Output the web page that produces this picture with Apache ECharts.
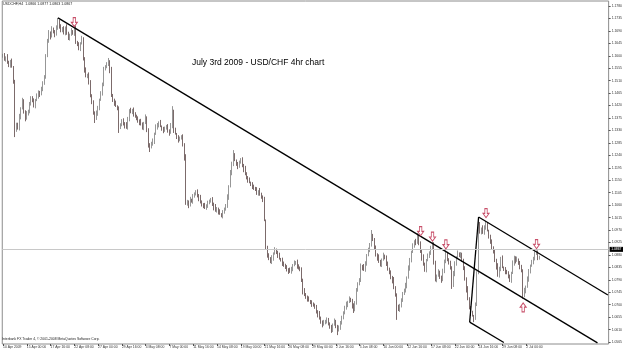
<!DOCTYPE html>
<html>
<head>
<meta charset="utf-8">
<title>USD/CHF 4hr</title>
<script src="https://cdn.jsdelivr.net/npm/echarts@6.0.0/dist/echarts.min.js"></script>
<style>
  html, body { margin: 0; padding: 0; background: #fff; }
  #chart { width: 625px; height: 350px; }
</style>
</head>
<body>
<div id="chart"></div>
<script>
// x labels, one every 16 bars (MT4 style)
const tickLabels = ['10 Apr 2009', '15 Apr 00:00', '17 Apr 16:00', '22 Apr 08:00', '27 Apr 00:00', '29 Apr 16:00',
  '4 May 08:00', '7 May 00:00', '11 May 16:00', '14 May 08:00', '19 May 00:00', '21 May 16:00', '26 May 08:00',
  '29 May 00:00', '2 Jun 16:00', '5 Jun 08:00', '10 Jun 00:00', '12 Jun 16:00', '17 Jun 08:00', '22 Jun 00:00',
  '24 Jun 16:00', '29 Jun 08:00', '2 Jul 00:00']
const barsPerTick = 16
const totalSlots = 408

const priceTicks = [1.0565, 1.0610, 1.0655, 1.0700, 1.0745, 1.0790, 1.0835, 1.0880, 1.0925, 1.0970, 1.1015,
  1.1060, 1.1105, 1.1150, 1.1195, 1.1240, 1.1285, 1.1330, 1.1375, 1.1420, 1.1465, 1.1510, 1.1555, 1.1600,
  1.1645, 1.1690, 1.1735, 1.1780]

// USDCHF H4 bars, open of each bar = previous close
const firstOpen = 1.1598
const closes = [
  1.1601, 1.1590, 1.1594, 1.1575, 1.1566, 1.1580, 1.1560, 1.1505, 1.1330, 1.1352,
  1.1338, 1.1381, 1.1410, 1.1436, 1.1398, 1.1372, 1.1390, 1.1402, 1.1425, 1.1448,
  1.1437, 1.1421, 1.1440, 1.1452, 1.1468, 1.1460, 1.1478, 1.1505, 1.1522, 1.1600,
  1.1655, 1.1684, 1.1670, 1.1695, 1.1688, 1.1676, 1.1700, 1.1722, 1.1708, 1.1690,
  1.1698, 1.1685, 1.1702, 1.1680, 1.1664, 1.1675, 1.1690, 1.1682, 1.1703, 1.1648,
  1.1640, 1.1628, 1.1645, 1.1660, 1.1590, 1.1548, 1.1525, 1.1532, 1.1506, 1.1455,
  1.1430, 1.1395, 1.1372, 1.1390, 1.1412, 1.1440, 1.1462, 1.1500, 1.1552, 1.1560,
  1.1571, 1.1580, 1.1548, 1.1455, 1.1440, 1.1428, 1.1418, 1.1409, 1.1340, 1.1350,
  1.1365, 1.1356, 1.1348, 1.1340, 1.1372, 1.1402, 1.1395, 1.1405, 1.1390, 1.1381,
  1.1372, 1.1366, 1.1360, 1.1352, 1.1340, 1.1356, 1.1378, 1.1330, 1.1278, 1.1270,
  1.1283, 1.1292, 1.1318, 1.1340, 1.1350, 1.1358, 1.1345, 1.1335, 1.1330, 1.1338,
  1.1344, 1.1330, 1.1322, 1.1345, 1.1400, 1.1330, 1.1318, 1.1305, 1.1296, 1.1302,
  1.1307, 1.1280, 1.1232, 1.1065, 1.1072, 1.1058, 1.1080, 1.1075, 1.1092, 1.1100,
  1.1108, 1.1096, 1.1085, 1.1070, 1.1062, 1.1058, 1.1049, 1.1060, 1.1068, 1.1074,
  1.1080, 1.1065, 1.1052, 1.1040, 1.1046, 1.1035, 1.1028, 1.1022, 1.1034, 1.1045,
  1.1058, 1.1090, 1.1128, 1.1175, 1.1210, 1.1238, 1.1222, 1.1208, 1.1200, 1.1215,
  1.1224, 1.1205, 1.1190, 1.1172, 1.1160, 1.1150, 1.1142, 1.1135, 1.1128, 1.1120,
  1.1116, 1.1105, 1.1110, 1.1098, 1.1090, 1.1080, 1.1005, 1.0905, 1.0880, 1.0866,
  1.0855, 1.0870, 1.0885, 1.0896, 1.0890, 1.0878, 1.0866, 1.0862, 1.0850, 1.0842,
  1.0834, 1.0828, 1.0822, 1.0819, 1.0830, 1.0842, 1.0850, 1.0855, 1.0840, 1.0832,
  1.0826, 1.0790, 1.0748, 1.0735, 1.0728, 1.0720, 1.0714, 1.0708, 1.0702, 1.0698,
  1.0690, 1.0676, 1.0665, 1.0650, 1.0638, 1.0627, 1.0635, 1.0642, 1.0646, 1.0630,
  1.0618, 1.0612, 1.0628, 1.0638, 1.0622, 1.0606, 1.0615, 1.0638, 1.0652, 1.0670,
  1.0690, 1.0702, 1.0710, 1.0718, 1.0716, 1.0695, 1.0682, 1.0710, 1.0752, 1.0775,
  1.0790, 1.0840, 1.0835, 1.0826, 1.0850, 1.0878, 1.0896, 1.0920, 1.0950, 1.0935,
  1.0905, 1.0882, 1.0870, 1.0855, 1.0845, 1.0862, 1.0878, 1.0870, 1.0850, 1.0828,
  1.0815, 1.0800, 1.0788, 1.0760, 1.0736, 1.0690, 1.0680, 1.0700, 1.0715, 1.0740,
  1.0752, 1.0770, 1.0798, 1.0830, 1.0862, 1.0890, 1.0912, 1.0930, 1.0925, 1.0946,
  1.0920, 1.0895, 1.0870, 1.0845, 1.0826, 1.0860, 1.0875, 1.0890, 1.0905, 1.0920,
  1.0850, 1.0792, 1.0805, 1.0816, 1.0800, 1.0788, 1.0820, 1.0860, 1.0885, 1.0862,
  1.0850, 1.0835, 1.0768, 1.0810, 1.0850, 1.0870, 1.0886, 1.0878, 1.0882, 1.0860,
  1.0830, 1.0795, 1.0755, 1.0720, 1.0690, 1.0668, 1.0660, 1.0655, 1.0700, 1.0815,
  1.0990, 1.0965, 1.0975, 1.0960, 1.0980, 1.0995, 1.0968, 1.0945, 1.0930, 1.0905,
  1.0890, 1.0862, 1.0838, 1.0805, 1.0830, 1.0868, 1.0835, 1.0828, 1.0820, 1.0815,
  1.0800, 1.0790, 1.0815, 1.0848, 1.0870, 1.0858, 1.0864, 1.0850, 1.0838, 1.0822,
  1.0735, 1.0752, 1.0765, 1.0790, 1.0822, 1.0840, 1.0852, 1.0870, 1.0885, 1.0890,
  1.0866, 1.0867
]
const highs = [
  1.1607, 1.1610, 1.1598, 1.1606, 1.1582, 1.1585, 1.1590, 1.1563, 1.1513, 1.1358,
  1.1358, 1.1390, 1.1414, 1.1448, 1.1443, 1.1403, 1.1400, 1.1405, 1.1433, 1.1454,
  1.1454, 1.1446, 1.1444, 1.1464, 1.1475, 1.1473, 1.1488, 1.1508, 1.1530, 1.1606,
  1.1661, 1.1693, 1.1688, 1.1707, 1.1702, 1.1693, 1.1710, 1.1737, 1.1730, 1.1714,
  1.1704, 1.1707, 1.1706, 1.1714, 1.1687, 1.1680, 1.1700, 1.1693, 1.1711, 1.1709,
  1.1654, 1.1649, 1.1649, 1.1672, 1.1667, 1.1595, 1.1558, 1.1535, 1.1540, 1.1512,
  1.1461, 1.1439, 1.1399, 1.1402, 1.1419, 1.1445, 1.1472, 1.1503, 1.1560, 1.1566,
  1.1577, 1.1592, 1.1584, 1.1560, 1.1462, 1.1445, 1.1438, 1.1421, 1.1417, 1.1356,
  1.1371, 1.1374, 1.1360, 1.1360, 1.1379, 1.1407, 1.1412, 1.1408, 1.1413, 1.1396,
  1.1387, 1.1381, 1.1370, 1.1372, 1.1359, 1.1361, 1.1388, 1.1381, 1.1338, 1.1284,
  1.1289, 1.1301, 1.1322, 1.1352, 1.1357, 1.1363, 1.1368, 1.1348, 1.1343, 1.1344,
  1.1350, 1.1353, 1.1334, 1.1357, 1.1418, 1.1405, 1.1340, 1.1321, 1.1313, 1.1308,
  1.1313, 1.1316, 1.1284, 1.1244, 1.1079, 1.1077, 1.1090, 1.1083, 1.1100, 1.1106,
  1.1114, 1.1117, 1.1100, 1.1097, 1.1077, 1.1067, 1.1068, 1.1063, 1.1076, 1.1080,
  1.1086, 1.1089, 1.1069, 1.1064, 1.1053, 1.1051, 1.1045, 1.1031, 1.1042, 1.1051,
  1.1064, 1.1099, 1.1132, 1.1187, 1.1217, 1.1259, 1.1248, 1.1225, 1.1216, 1.1221,
  1.1230, 1.1233, 1.1209, 1.1202, 1.1179, 1.1165, 1.1160, 1.1145, 1.1143, 1.1134,
  1.1126, 1.1125, 1.1114, 1.1122, 1.1105, 1.1095, 1.1090, 1.1008, 1.0913, 1.0886,
  1.0872, 1.0879, 1.0889, 1.0908, 1.0903, 1.0895, 1.0888, 1.0869, 1.0870, 1.0856,
  1.0848, 1.0843, 1.0832, 1.0834, 1.0837, 1.0847, 1.0860, 1.0858, 1.0863, 1.0846,
  1.0838, 1.0835, 1.0794, 1.0760, 1.0742, 1.0733, 1.0730, 1.0717, 1.0716, 1.0708,
  1.0704, 1.0699, 1.0680, 1.0677, 1.0657, 1.0643, 1.0645, 1.0645, 1.0654, 1.0652,
  1.0636, 1.0627, 1.0632, 1.0650, 1.0645, 1.0627, 1.0625, 1.0641, 1.0660, 1.0676,
  1.0696, 1.0711, 1.0714, 1.0730, 1.0725, 1.0721, 1.0705, 1.0713, 1.0760, 1.0781,
  1.0796, 1.0849, 1.0844, 1.0847, 1.0857, 1.0883, 1.0906, 1.0923, 1.0970, 1.0956,
  1.0941, 1.0914, 1.0886, 1.0882, 1.0862, 1.0867, 1.0888, 1.0881, 1.0878, 1.0856,
  1.0834, 1.0824, 1.0804, 1.0800, 1.0767, 1.0741, 1.0700, 1.0703, 1.0723, 1.0746,
  1.0758, 1.0779, 1.0802, 1.0842, 1.0869, 1.0895, 1.0922, 1.0933, 1.0938, 1.0959,
  1.0952, 1.0929, 1.0899, 1.0882, 1.0852, 1.0865, 1.0885, 1.0893, 1.0913, 1.0927,
  1.0926, 1.0859, 1.0809, 1.0828, 1.0823, 1.0805, 1.0830, 1.0863, 1.0896, 1.0891,
  1.0868, 1.0859, 1.0839, 1.0822, 1.0857, 1.0875, 1.0896, 1.0889, 1.0890, 1.0888,
  1.0866, 1.0839, 1.0799, 1.0767, 1.0727, 1.0695, 1.0678, 1.0663, 1.0708, 1.0821,
  1.1017, 1.0999, 1.0979, 1.0987, 1.0987, 1.1003, 1.0999, 1.0971, 1.0953, 1.0936,
  1.0911, 1.0899, 1.0866, 1.0850, 1.0837, 1.0873, 1.0878, 1.0838, 1.0836, 1.0826,
  1.0821, 1.0809, 1.0819, 1.0860, 1.0877, 1.0875, 1.0874, 1.0867, 1.0858, 1.0844,
  1.0828, 1.0761, 1.0769, 1.0802, 1.0829, 1.0845, 1.0862, 1.0873, 1.0893, 1.0896,
  1.0896, 1.0877
]
const lows = [
  1.1593, 1.1582, 1.1579, 1.1571, 1.1559, 1.1557, 1.1557, 1.1499, 1.1306, 1.1325,
  1.1333, 1.1330, 1.1370, 1.1406, 1.1391, 1.1363, 1.1369, 1.1384, 1.1392, 1.1420,
  1.1432, 1.1413, 1.1410, 1.1436, 1.1445, 1.1451, 1.1457, 1.1472, 1.1495, 1.1517,
  1.1595, 1.1647, 1.1659, 1.1666, 1.1681, 1.1667, 1.1673, 1.1694, 1.1698, 1.1685,
  1.1685, 1.1677, 1.1674, 1.1676, 1.1657, 1.1655, 1.1672, 1.1676, 1.1672, 1.1643,
  1.1635, 1.1620, 1.1617, 1.1641, 1.1583, 1.1539, 1.1522, 1.1519, 1.1496, 1.1450,
  1.1425, 1.1387, 1.1357, 1.1368, 1.1383, 1.1403, 1.1437, 1.1456, 1.1490, 1.1547,
  1.1555, 1.1563, 1.1537, 1.1451, 1.1433, 1.1419, 1.1415, 1.1403, 1.1321, 1.1335,
  1.1345, 1.1348, 1.1337, 1.1336, 1.1333, 1.1363, 1.1392, 1.1389, 1.1380, 1.1376,
  1.1367, 1.1358, 1.1349, 1.1348, 1.1333, 1.1331, 1.1353, 1.1324, 1.1268, 1.1252,
  1.1265, 1.1275, 1.1281, 1.1314, 1.1333, 1.1341, 1.1342, 1.1329, 1.1320, 1.1325,
  1.1333, 1.1322, 1.1311, 1.1318, 1.1338, 1.1321, 1.1315, 1.1299, 1.1286, 1.1291,
  1.1297, 1.1272, 1.1221, 1.1061, 1.1058, 1.1049, 1.1055, 1.1069, 1.1065, 1.1087,
  1.1095, 1.1088, 1.1074, 1.1066, 1.1055, 1.1049, 1.1046, 1.1043, 1.1050, 1.1063,
  1.1069, 1.1057, 1.1041, 1.1036, 1.1033, 1.1026, 1.1025, 1.1016, 1.1012, 1.1029,
  1.1040, 1.1050, 1.1079, 1.1124, 1.1168, 1.1201, 1.1219, 1.1202, 1.1190, 1.1195,
  1.1210, 1.1197, 1.1179, 1.1168, 1.1153, 1.1141, 1.1139, 1.1129, 1.1118, 1.1115,
  1.1111, 1.1097, 1.1094, 1.1094, 1.1083, 1.1071, 1.1002, 1.0899, 1.0870, 1.0861,
  1.0850, 1.0847, 1.0859, 1.0881, 1.0883, 1.0869, 1.0863, 1.0856, 1.0840, 1.0837,
  1.0829, 1.0820, 1.0811, 1.0815, 1.0812, 1.0821, 1.0839, 1.0844, 1.0830, 1.0827,
  1.0821, 1.0782, 1.0737, 1.0731, 1.0721, 1.0711, 1.0711, 1.0702, 1.0692, 1.0693,
  1.0685, 1.0668, 1.0654, 1.0646, 1.0631, 1.0618, 1.0624, 1.0629, 1.0632, 1.0625,
  1.0613, 1.0598, 1.0601, 1.0624, 1.0615, 1.0590, 1.0603, 1.0609, 1.0628, 1.0647,
  1.0665, 1.0682, 1.0691, 1.0706, 1.0709, 1.0686, 1.0670, 1.0676, 1.0700, 1.0747,
  1.0770, 1.0782, 1.0824, 1.0822, 1.0819, 1.0841, 1.0875, 1.0890, 1.0910, 1.0930,
  1.0900, 1.0874, 1.0859, 1.0851, 1.0838, 1.0836, 1.0859, 1.0864, 1.0840, 1.0823,
  1.0810, 1.0792, 1.0777, 1.0756, 1.0729, 1.0645, 1.0677, 1.0674, 1.0690, 1.0710,
  1.0735, 1.0744, 1.0759, 1.0794, 1.0823, 1.0853, 1.0887, 1.0906, 1.0915, 1.0920,
  1.0915, 1.0887, 1.0859, 1.0841, 1.0819, 1.0817, 1.0857, 1.0869, 1.0880, 1.0900,
  1.0845, 1.0784, 1.0781, 1.0801, 1.0793, 1.0779, 1.0785, 1.0814, 1.0850, 1.0857,
  1.0845, 1.0827, 1.0757, 1.0764, 1.0803, 1.0841, 1.0867, 1.0872, 1.0868, 1.0855,
  1.0825, 1.0787, 1.0744, 1.0716, 1.0683, 1.0659, 1.0657, 1.0637, 1.0645, 1.0695,
  1.0810, 1.0957, 1.0954, 1.0956, 1.0953, 1.0971, 1.0965, 1.0939, 1.0920, 1.0900,
  1.0885, 1.0854, 1.0827, 1.0801, 1.0798, 1.0821, 1.0832, 1.0822, 1.0810, 1.0810,
  1.0795, 1.0782, 1.0779, 1.0811, 1.0841, 1.0849, 1.0855, 1.0844, 1.0828, 1.0817,
  1.0722, 1.0727, 1.0741, 1.0761, 1.0783, 1.0813, 1.0837, 1.0846, 1.0860, 1.0880,
  1.0861, 1.0863
]

// drawn objects: [bar, price]
const trendLine = [[37, 1.1737], [400, 1.0562]]
const channelTop = [[320, 1.1017], [407, 1.0735]]
const channelBottom = [[314, 1.0637], [337, 1.0563]]
const channelSide = [[314, 1.0637], [320, 1.1017]]
const downArrows = [[48, 1.1722], [281, 1.0966], [289, 1.0946], [298, 1.0918], [325, 1.1031], [359, 1.0919]]
const upArrows = [[350, 1.0690]]

const slots = Array.from({ length: totalSlots }, (_, i) => i)
const candles = closes.map((c, i) => [i ? closes[i - 1] : firstOpen, c, lows[i], highs[i]])
const last = candles[candles.length - 1]
const fmt = v => v.toFixed(4)

const downPath = 'path://M3,0L7,0L7,7L10,7L5,13L0,7L3,7Z'
const upPath = 'path://M5,0L10,6L7,6L7,13L3,13L3,6L0,6Z'
const isTick = index => index % barsPerTick === 0 && index / barsPerTick < tickLabels.length

const smallFont = 'Liberation Sans, Arial, sans-serif'

function lineSeries(points) {
  return {
    type: 'line',
    data: points,
    symbol: 'none',
    silent: true,
    z: 4,
    lineStyle: { color: '#000', width: 1.3 }
  }
}

const chart = echarts.init(document.getElementById('chart'), null, { renderer: 'canvas' })
chart.setOption({
  animation: false,
  backgroundColor: '#fff',
  textStyle: { fontFamily: smallFont },
  graphic: [
    {
      type: 'text', left: 3, top: 2,
      style: { text: 'USDCHF,H4  ' + [last[0], last[3], last[2], last[1]].map(fmt).join(' '), fontSize: 3.6, fill: '#222', fontFamily: smallFont }
    },
    {
      type: 'text', left: 192, top: 58,
      style: { text: 'July 3rd 2009 - USD/CHF 4hr chart', fontSize: 8.5, fill: '#000', fontFamily: smallFont }
    },
    {
      type: 'text', left: 2, top: 338,
      style: { text: 'Interbank FX Trader 4, \u00a9 2001-2008 MetaQuotes Software Corp.', fontSize: 3.4, fill: '#222', fontFamily: smallFont }
    }
  ],
  grid: {
    left: 1,
    right: 16,
    top: 1,
    bottom: 6,
    show: true,
    borderColor: '#8c8c8c',
    borderWidth: 1
  },
  xAxis: {
    type: 'category',
    data: slots,
    boundaryGap: true,
    axisLine: { show: false },
    axisTick: { show: true, alignWithLabel: true, interval: isTick, length: 2, lineStyle: { color: '#555' } },
    axisLabel: {
      interval: isTick,
      formatter: (v, idx) => tickLabels[idx / barsPerTick],
      fontSize: 3.4,
      color: '#333',
      align: 'left',
      margin: 1.5
    },
    splitLine: { show: false }
  },
  yAxis: {
    type: 'value',
    position: 'right',
    min: 1.05578,
    max: 1.17981,
    axisLine: { show: false },
    axisTick: { show: true, customValues: priceTicks, length: 2, lineStyle: { color: '#555' } },
    axisLabel: { customValues: priceTicks, formatter: fmt, fontSize: 3.4, color: '#333', margin: 3 },
    splitLine: { show: false }
  },
  series: [
    {
      type: 'candlestick',
      data: candles,
      barWidth: 1,
      silent: true,
      itemStyle: {
        color: '#d8d8d8',
        color0: '#4a3535',
        borderColor: '#7c7c7c',
        borderColor0: '#5a4545',
        borderWidth: 0.8
      },
      markLine: {
        silent: true,
        symbol: ['none', 'none'],
        data: [{ yAxis: last[1] }],
        lineStyle: { color: '#c8c8c8', width: 1, type: 'solid' },
        label: {
          position: 'end',
          formatter: fmt(last[1]),
          backgroundColor: '#000',
          color: '#fff',
          fontSize: 3.4,
          padding: [1, 1.5],
          distance: 1
        }
      },
      markPoint: {
        silent: true,
        label: { show: false },
        symbolSize: [6, 9],
        itemStyle: { color: '#fff', borderColor: '#c8506a', borderWidth: 1 },
        data: downArrows.map(a => ({ coord: a, symbol: downPath }))
          .concat(upArrows.map(a => ({ coord: a, symbol: upPath })))
      }
    },
    lineSeries(trendLine),
    lineSeries(channelTop),
    lineSeries(channelBottom),
    lineSeries(channelSide)
  ]
})
</script>
</body>
</html>
